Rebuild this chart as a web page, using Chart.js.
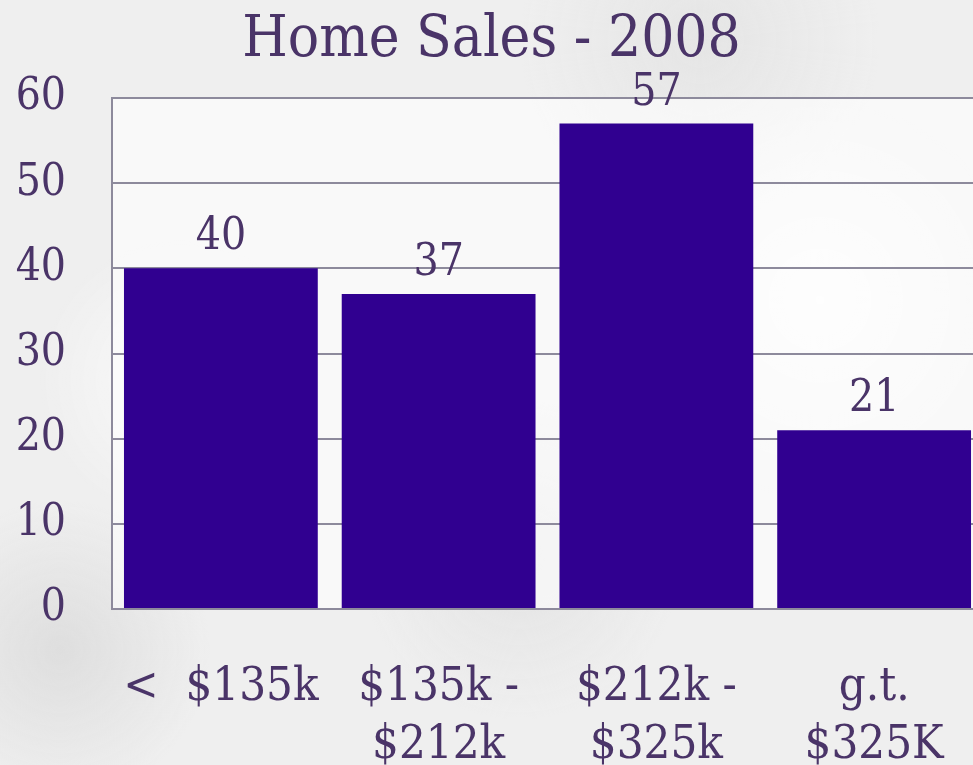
<!DOCTYPE html>
<html>
<head>
<meta charset="utf-8">
<script src="https://cdn.jsdelivr.net/npm/chart.js@4/dist/chart.umd.min.js"></script>
<style>
  html, body { margin: 0; padding: 0; overflow: hidden; }
  body {
    width: 973px; height: 765px;
    background-color: #efefef;
    background-image:
      radial-gradient(circle at 180px 380px, rgba(255,255,255,0.7) 0, rgba(255,255,255,0) 140px),
      radial-gradient(circle at 520px 560px, rgba(220,220,220,0.6) 0, rgba(220,220,220,0) 160px),
      radial-gradient(circle at 820px 300px, rgba(255,255,255,0.8) 0, rgba(255,255,255,0) 200px),
      radial-gradient(circle at 60px 650px, rgba(215,215,215,0.7) 0, rgba(215,215,215,0) 150px),
      radial-gradient(circle at 700px 40px, rgba(225,225,225,0.7) 0, rgba(225,225,225,0) 180px);
  }
  #wrap { position: absolute; left: 0; top: 0; width: 983px; height: 765px; }
</style>
</head>
<body>
<div id="wrap"><canvas id="chart"></canvas></div>
<script>
const categories = [['<  $135k'], ['$135k -', '$212k'], ['$212k -', '$325k'], ['g.t.', '$325K']];
const sales = [40, 37, 57, 21];
const yTicks = { min: 0, max: 60, step: 10 };

const serif = "'DejaVu Serif Condensed', 'Liberation Serif', serif";
const textColor = '#4a3468';

// light panel behind the plot
const plotPanel = {
    id: 'plotPanel',
    beforeDraw(chart) {
        const a = chart.chartArea, ctx = chart.ctx;
        ctx.save();
        ctx.fillStyle = 'rgba(255,255,255,0.6)';
        ctx.fillRect(a.left, a.top, a.right - a.left, a.bottom - a.top);
        ctx.restore();
    }
};

// value above each bar
const barValues = {
    id: 'barValues',
    afterDatasetsDraw(chart) {
        const ctx = chart.ctx;
        const meta = chart.getDatasetMeta(0);
        ctx.save();
        ctx.font = '44px ' + serif;
        ctx.fillStyle = textColor;
        ctx.textAlign = 'center';
        ctx.textBaseline = 'alphabetic';
        meta.data.forEach((bar, i) => {
            ctx.fillText(String(sales[i]), bar.x, bar.y - 19);
        });
        ctx.restore();
    }
};

new Chart(document.getElementById('chart'), {
    type: 'bar',
    data: {
        labels: categories,
        datasets: [{
            data: sales,
            backgroundColor: '#300090',
            borderWidth: 0,
            barPercentage: 0.89,
            categoryPercentage: 1
        }]
    },
    options: {
        responsive: true,
        maintainAspectRatio: false,
        animation: false,
        layout: { padding: { left: 0, right: 0, top: 0, bottom: 0 } },
        plugins: {
            legend: { display: false },
            tooltip: { enabled: false },
            title: {
                display: true,
                text: 'Home Sales - 2008',
                color: textColor,
                font: { family: serif, size: 58, weight: 'normal', lineHeight: 1 },
                padding: { top: 12, bottom: 28 }
            }
        },
        scales: {
            x: {
                grid: { display: false },
                border: { display: true, color: '#8d8a9c', width: 2 },
                ticks: {
                    color: textColor,
                    font: { family: serif, size: 47, lineHeight: 1.23 },
                    padding: 42,
                    maxRotation: 0,
                    autoSkip: false
                },
                afterFit(s) {
                    s.height = 156;
                    // plot runs to the right edge, no label overhang padding
                    s.paddingLeft = 0;
                    s.paddingRight = 0;
                }
            },
            y: {
                min: yTicks.min,
                max: yTicks.max,
                grid: { color: '#8d8a9c', lineWidth: 2, drawTicks: false },
                border: { display: true, color: '#8d8a9c', width: 2 },
                ticks: {
                    stepSize: yTicks.step,
                    color: textColor,
                    font: { family: serif, size: 44 },
                    padding: 46
                },
                afterFit(s) { s.width = 112; }
            }
        }
    },
    plugins: [plotPanel, barValues]
});
</script>
</body>
</html>
